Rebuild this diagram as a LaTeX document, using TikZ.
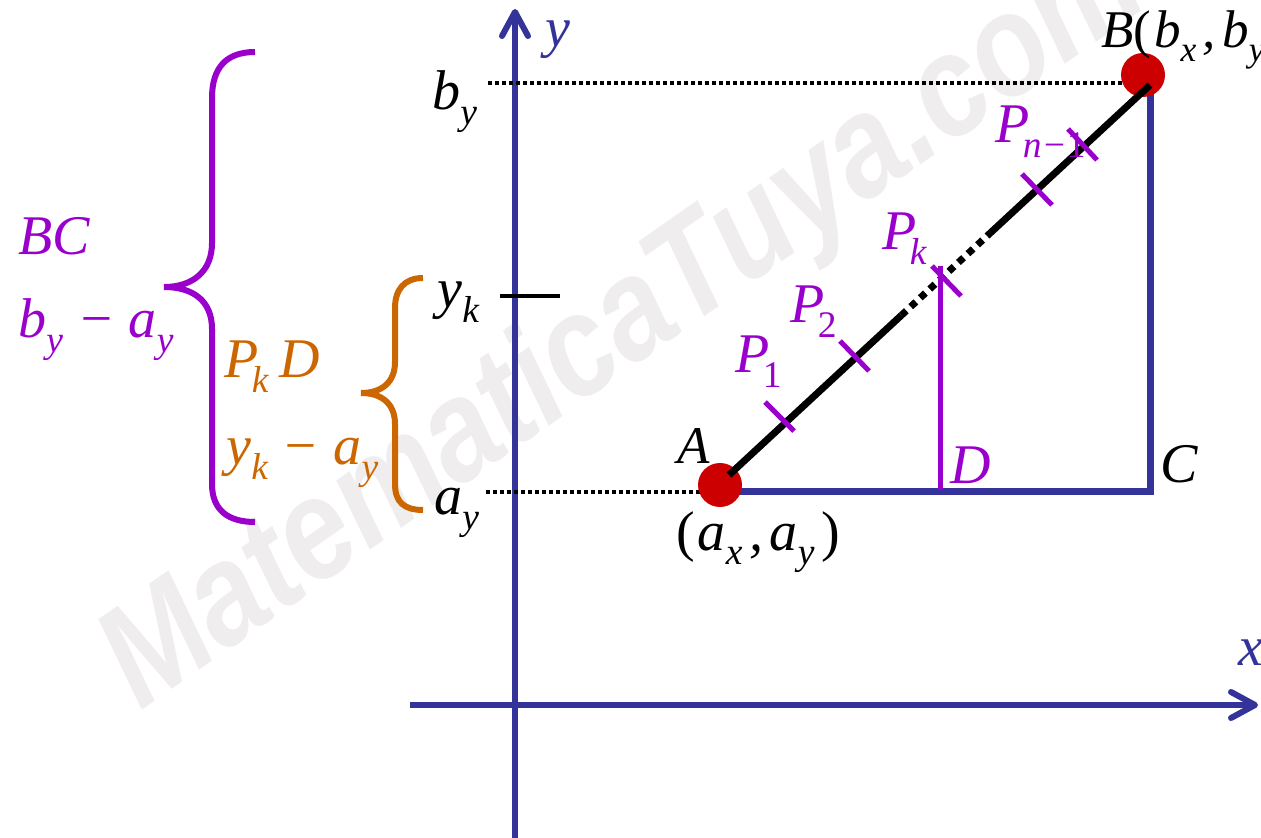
\documentclass[tikz,border=0pt]{standalone}
\usepackage{fontspec}
\setmainfont{Liberation Serif}
\newfontfamily\wmfont[FakeStretch=0.85]{Liberation Sans}
\usetikzlibrary{arrows.meta,calc}
\definecolor{cpurple}{RGB}{153,0,204}
\definecolor{corange}{RGB}{204,102,0}
\definecolor{cblue}{RGB}{51,51,153}
\definecolor{cred}{RGB}{204,0,0}
\definecolor{cwm}{RGB}{239,237,238}
\newcommand{\sbx}[1]{\raisebox{-0.26em}{\scalebox{0.67}{#1}}}
\begin{document}
\begin{tikzpicture}[x=0.5pt,y=-0.5pt,
  lbl/.style={inner sep=0pt, anchor=base west, font=\fontsize{28}{34}\selectfont\itshape},
  lblsm/.style={inner sep=0pt, anchor=base west, font=\fontsize{26.5}{30}\selectfont\itshape},
  axisline/.style={cblue, line width=3pt, -{Straight Barb[length=12pt,width=13pt,round]}},
  dotline/.style={line width=2pt, dash pattern=on 2pt off 1.5pt},
  brace/.style={line width=3pt, line cap=butt},
  seg/.style={line width=3.5pt},
  segdot/.style={line width=3.5pt, dash pattern=on 3.5pt off 3pt},
  blueline/.style={cblue, line width=3.5pt, line join=miter},
  tickmark/.style={cpurple, line width=2.5pt},
  dotfill/.style={fill=cred},
  wm/.style={cwm, inner sep=0pt, anchor=base west, rotate=35,
     font=\wmfont\bfseries\itshape\fontsize{72}{76}\selectfont}
]
\useasboundingbox (0,0) rectangle (1261,838);

% watermark
\node[wm] (wmark) at (140,712) {MatematicaTuya.com};

% axes
\coordinate (xs) at (410,705);
\coordinate (xe) at (1258,705);
\coordinate (ys) at (515,845);
\coordinate (ye) at (515,9);
\draw[axisline] (xs) -- (xe);
\draw[axisline] (ys) -- (ye);

% points
\coordinate (A) at (720,485);
\coordinate (B) at (1143,75);
\coordinate (byL) at (488,83);
\coordinate (byR) at (1128,83);
\coordinate (ayL) at (486,492);
\coordinate (ayR) at (706,492);
\coordinate (Aline) at (730,492);
\coordinate (C) at (1150,492);
\coordinate (Bfoot) at (1150,86);
\coordinate (ykL) at (500,296);
\coordinate (ykR) at (560,296);

% dotted guides
\draw[dotline] (byL) -- (byR);
\draw[dotline] (ayL) -- (ayR);
\draw[line width=2pt] (ykL) -- (ykR);

% blue right angle
\draw[blueline] (Aline) -- (C) -- (Bfoot);

% red dots
\fill[dotfill] (A) circle[radius=11pt];
\fill[dotfill] (B) circle[radius=11pt];

% segment AB
\coordinate (Aend) at (729,475);
\coordinate (Bend) at (1150,85);
\path (Aend) -- (Bend) coordinate[pos=0.409] (S1) coordinate[pos=0.622] (S2);
\draw[seg] (Aend) -- (S1);
\draw[segdot] (S1) -- (S2);
\draw[seg] (S2) -- (Bend);

% P_k D perpendicular
\coordinate (PkTop) at (940,266);
\coordinate (Dfoot) at (940,490);
\draw[cpurple, line width=2.5pt] (PkTop) -- (Dfoot);

% ticks
\draw[tickmark] (765,402) -- (794,431);
\draw[tickmark] (840,341) -- (869,371);
\draw[tickmark] (932,266) -- (961,296);
\draw[tickmark] (1022,174) -- (1052,205);
\draw[tickmark] (1068,129) -- (1097,160);

% braces
\draw[brace, cpurple] (255,52) .. controls (226,52) and (212,68) .. (212,98)
  -- (212,243) .. controls (212,272) and (192,287) .. (164,287)
  .. controls (192,287) and (212,300) .. (212,329)
  -- (212,484) .. controls (212,510) and (228,522) .. (255,522);
\draw[brace, corange] (423,278) .. controls (404,278) and (395,290) .. (395,308)
  -- (395,362) .. controls (395,382) and (382,393) .. (361,393)
  .. controls (382,393) and (395,404) .. (395,424)
  -- (395,484) .. controls (395,502) and (404,510) .. (423,510);

% labels
\node[lbl, cpurple] (lBC) at (18,255) {BC};
\node[lbl, cpurple] (lbay) at (18,338) {b\sbx{y} − a\sbx{y}};
\node[lbl, corange] (lPkD) at (224,378) {P\kern-0.12em\sbx{k}\kern0.2em D};
\node[lbl, corange] (lyka) at (226,465) {y\sbx{k} − a\sbx{y}};
\node[lbl] (lby) at (432,110) {b\sbx{y}};
\node[lbl] (lyk) at (437,308) {y\sbx{k}};
\node[lbl] (lay) at (434,515) {a\sbx{y}};
\node[lbl, cblue] (lylab) at (545,47) {y};
\node[lbl, cblue] (lxlab) at (1238,665) {x};
\node[lblsm] (lB) at (1101,48) {B\textup{(}\kern0.05em b\sbx{x}\kern0.12em,\kern0.12em b\sbx{y}\kern0.1em\textup{)}};
\node[lblsm] (lA) at (677,464) {A};
\node[lbl] (laxay) at (676,550) {\textup{(}\kern0.05em a\sbx{x}\kern0.12em,\kern0.12em a\sbx{y}\kern0.12em\textup{)}};
\node[lbl] (lC) at (1160,482) {C};
\node[lbl, cpurple] (lD) at (950,484) {D};
\node[lbl, cpurple] (lP1) at (735,373) {P\kern-0.12em\sbx{\textup{1}}};
\node[lbl, cpurple] (lP2) at (790,323) {P\kern-0.12em\sbx{\textup{2}}};
\node[lbl, cpurple] (lPk) at (882,250) {P\kern-0.12em\sbx{k}};
\node[lbl, cpurple] (lPn) at (995,143) {P\kern-0.12em\sbx{n−\textup{1}}};
\end{tikzpicture}
\end{document}
